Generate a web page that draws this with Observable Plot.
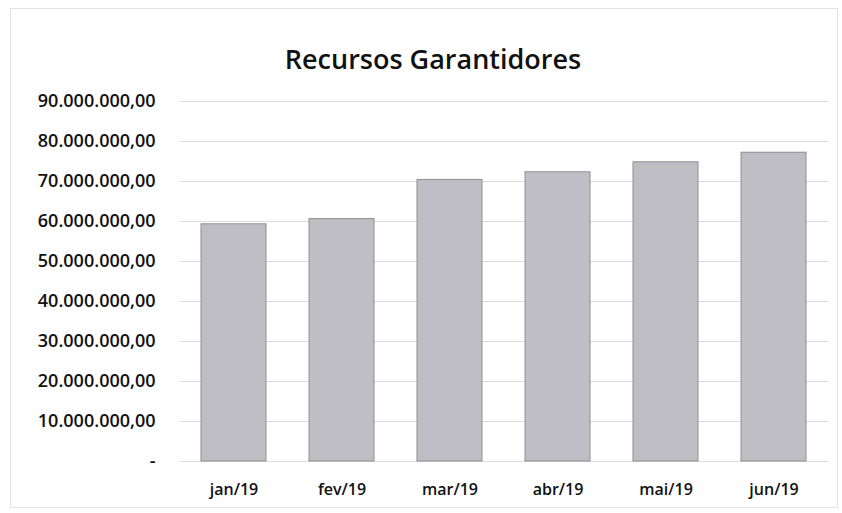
<!DOCTYPE html>
<html>
<head>
<meta charset="utf-8">
<script src="https://cdn.jsdelivr.net/npm/d3@7"></script>
<script src="https://cdn.jsdelivr.net/npm/@observablehq/plot@0.6"></script>
<style>
  html, body { margin: 0; padding: 0; background: #fff; }
  #wrap { position: relative; width: 842px; height: 513px; overflow: hidden; }
  #frame { position: absolute; left: 10px; top: 8px; width: 828px; height: 500px; border: 1px solid #e2e2e2; box-sizing: border-box; }
  #title { position: absolute; left: 0; width: 866px; top: 40px; text-align: center; font-family: "Open Sans", sans-serif; font-size: 27px; font-weight: 600; color: #111; }
  #chart { position: absolute; left: 0; top: 0; }
</style>
</head>
<body>
<div id="wrap">
  <div id="frame"></div>
  <div id="title">Recursos Garantidores</div>
  <div id="chart"></div>
</div>
<script>
const months = ["jan/19", "fev/19", "mar/19", "abr/19", "mai/19", "jun/19"];
const values = [59300000, 60600000, 70400000, 72300000, 74800000, 77200000];
const yTicks = [0, 10000000, 20000000, 30000000, 40000000, 50000000, 60000000, 70000000, 80000000, 90000000];

const data = months.map((m, i) => ({month: m, value: values[i]}));
const loc = d3.formatLocale({decimal: ",", thousands: ".", grouping: [3], currency: ["R$", ""]});
const fmt = loc.format(",.2f");

const chart = Plot.plot({
  width: 842,
  height: 513,
  marginTop: 101,
  marginBottom: 52,
  marginLeft: 179,
  marginRight: 14,
  style: {fontFamily: "Open Sans, sans-serif", fontSize: "16px", color: "#111", background: "transparent"},
  x: {domain: months, paddingInner: 0.4, paddingOuter: 0.2, label: null},
  y: {domain: [0, 90000000], label: null},
  marks: [
    Plot.gridY(yTicks, {stroke: "#dcdcdc", strokeOpacity: 1, strokeWidth: 1}),
    Plot.barY(data, {x: "month", y: "value", fill: "#bebec4", stroke: "#8f8f8f", strokeWidth: 1}),
    Plot.axisY(yTicks, {tickSize: 0, tickPadding: 24, tickFormat: d => d === 0 ? "-" : fmt(d), fontSize: 18, fontWeight: 600, fill: "#111"}),
    Plot.axisX({tickSize: 0, tickPadding: 22, fontSize: 16, fontWeight: 600, fill: "#111"})
  ]
});
document.getElementById("chart").appendChild(chart);
</script>
</body>
</html>
